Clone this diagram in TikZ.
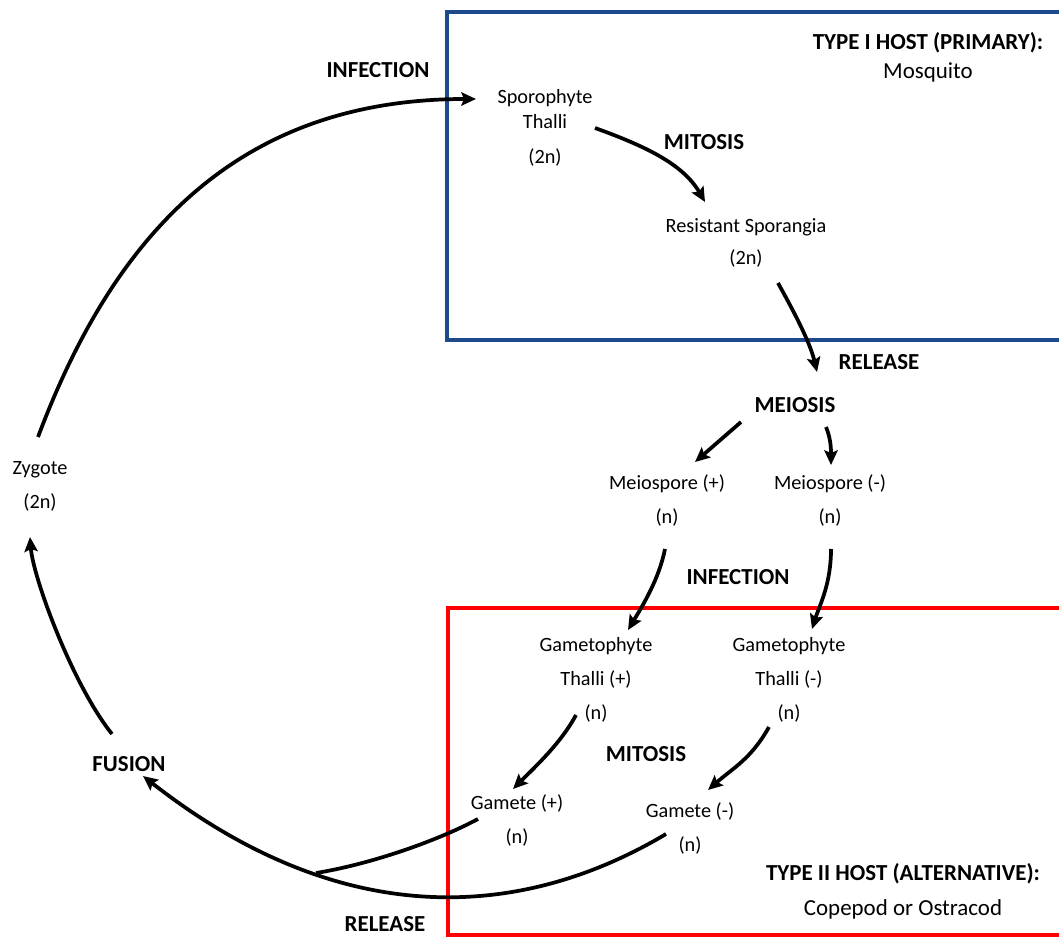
\documentclass[tikz,border=0pt]{standalone}
\usepackage{fontspec}
\setmainfont{Carlito}
\usetikzlibrary{arrows.meta, positioning, calc}
\definecolor{hostblue}{RGB}{28,74,138}
\definecolor{hostred}{RGB}{255,0,0}

\begin{document}
\begin{tikzpicture}[x=0.75pt, y=-0.75pt, thick, >=Stealth]

  % Define styles
  \tikzstyle{stage} = [align=center, inner sep=1pt, font=\fontsize{15.2}{25.5}\selectfont]
  \tikzstyle{event} = [inner sep=1pt, font=\fontsize{17.2}{20}\selectfont\bfseries]
  \tikzstyle{host} = [align=center, inner sep=1pt, font=\fontsize{17.2}{20}\selectfont]
  \tikzstyle{hostbox} = [line width=3pt]
  \tikzstyle{line} = [draw, line width=2.8pt, -{Stealth[length=11pt,width=10pt,inset=2pt]}]
  \tikzstyle{merge} = [draw, line width=2.8pt]

  \useasboundingbox (0,0) rectangle (1059,937);

  % Host boxes
  \begin{scope}
    \clip (0,0) rectangle (1059,937);
    \draw [hostbox, draw=hostblue] (447,12) rectangle (1090,340);
    \draw [hostbox, draw=hostred] (448,608) rectangle (1090,935);
  \end{scope}

  % Place nodes
  \node [host] (hostone) at (928,57) {\textbf{TYPE I HOST (PRIMARY):}\\[1.8pt]Mosquito};
  \node [host] (hosttwo) at (903,891) {\textbf{TYPE II HOST (ALTERNATIVE):}\\[6.3pt]Copepod or Ostracod};
  \node [stage] (zyg) at (40,486) {Zygote\\(2n)};
  \node [stage] (spo) at (545,128) {Sporophyte\\[-6.8pt]Thalli\\[0.8pt](2n)};
  \node [stage] (res) at (746,243) {Resistant Sporangia\\[-2pt](2n)};
  \node [stage] (msp) at (667,500) {Meiospore (+)\\(n)};
  \node [stage] (msm) at (830,500) {Meiospore (-)\\(n)};
  \node [stage] (gtp) at (596,680) {Gametophyte\\Thalli (+)\\(n)};
  \node [stage] (gtm) at (789,680) {Gametophyte\\Thalli (-)\\(n)};
  \node [stage] (gmp) at (517,820) {Gamete (+)\\(n)};
  \node [stage] (gmm) at (690,828) {Gamete (-)\\(n)};
  \node [event] (infone) at (378,70) {INFECTION};
  \node [event] (mitone) at (704,142) {MITOSIS};
  \node [event] (relone) at (879,362) {RELEASE};
  \node [event] (mei) at (795,405) {MEIOSIS};
  \node [event] (inftwo) at (738,577) {INFECTION};
  \node [event] (mittwo) at (646,754) {MITOSIS};
  \node [event] (fus) at (129,764) {FUSION};
  \node [event] (reltwo) at (385,924) {RELEASE};
  \coordinate (join) at (316,873);

  % Draw edges
  \path [line] ([shift={(-2,-49)}]zyg.center) .. controls +(75,-200) and +(-240,0) .. ([shift={(-69,-29)}]spo.center);
  \path [line] ([shift={(50,0)}]spo.center) .. controls +(50,18) and +(-22,-38) .. ([shift={(-41,-41)}]res.center);
  \path [line] ([shift={(32,40)}]res.center) .. controls +(15,27) and +(-7,-30) .. ([shift={(22,-33)}]mei.center);
  \path [line] ([shift={(-54,17)}]mei.center) -- ([shift={(28,-38)}]msp.center);
  \path [line] ([shift={(31,22)}]mei.center) .. controls +(5,12) and +(0,-15) .. ([shift={(1,-35)}]msm.center);
  \path [line] ([shift={(-2,49)}]msp.center) .. controls +(-6,30) and +(15,-25) .. ([shift={(32,-50)}]gtp.center);
  \path [line] ([shift={(1,49)}]msm.center) .. controls +(0,35) and +(8,-25) .. ([shift={(23,-51)}]gtm.center);
  \path [line] ([shift={(-20,35)}]gtp.center) .. controls +(-15,28) and +(22,-22) .. ([shift={(-4,-31)}]gmp.center);
  \path [line] ([shift={(-20,47)}]gtm.center) .. controls +(-18,32) and +(25,-22) .. ([shift={(18,-38)}]gmm.center);
  \path [merge] ([shift={(-39,-1)}]gmp.center) .. controls +(-45,24) and +(50,-8) .. (join);
  \path [line] ([shift={(-24,6)}]gmm.center) .. controls +(-146,87) and +(198,155) .. ([shift={(14,12)}]fus.center);
  \path [line] ([shift={(-17,-30)}]fus.center) .. controls +(-40,-50) and +(3,40) .. ([shift={(-10,51)}]zyg.center);

\end{tikzpicture}
\end{document}
